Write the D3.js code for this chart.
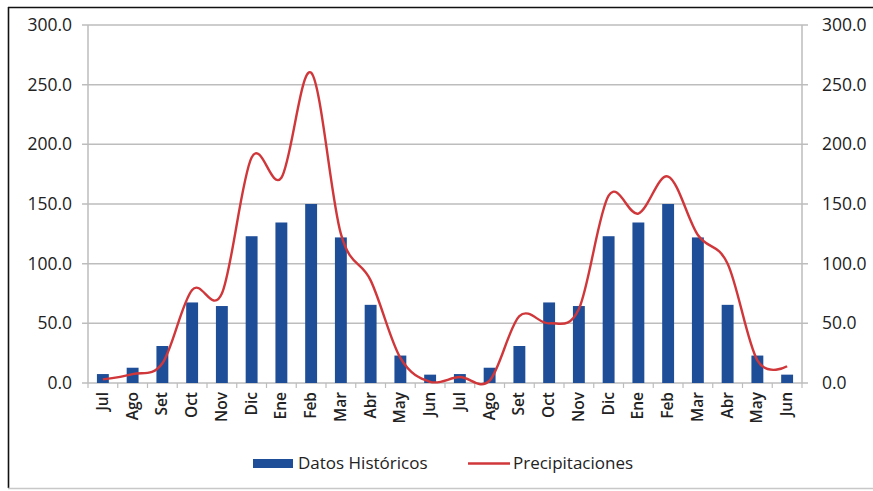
<!DOCTYPE html>
<html>
<head>
<meta charset="utf-8">
<script src="https://cdn.jsdelivr.net/npm/d3@7/dist/d3.min.js"></script>
<style>
  html, body { margin: 0; padding: 0; background: #fff; }
  svg { display: block; }
  text { font-family: "Open Sans", Lato, sans-serif; fill: #222; }
</style>
</head>
<body>
<svg id="chart" width="873" height="491"></svg>
<script>
// Months, two hydrological years (Jul–Jun)
const months = ["Jul","Ago","Set","Oct","Nov","Dic","Ene","Feb","Mar","Abr","May","Jun",
                "Jul","Ago","Set","Oct","Nov","Dic","Ene","Feb","Mar","Abr","May","Jun"];

// Historical monthly means (bars)
const historicos = [7.5, 12.8, 31, 67.5, 64.5, 123, 134.5, 150, 122, 65.5, 23, 7,
                    7.5, 12.8, 31, 67.5, 64.5, 123, 134.5, 150, 122, 65.5, 23, 7];

// Observed precipitation (line)
const precipitaciones = [3, 7.5, 16.5, 78, 75, 189, 172, 260, 125, 86, 21, 1,
                         5, 2, 56, 50, 62, 157, 142, 173, 124, 100, 19, 14];

const yTicks = [0, 50, 100, 150, 200, 250, 300];

const seriesNames = ["Datos Históricos", "Precipitaciones"];

const svg = d3.select("#chart");
const W = 873, H = 491;
const plot = { left: 88, right: 802, top: 25, bottom: 383 };

const barColor = "#1F4E99";
const lineColor = "#D0373A";
const gridColor = "#BDBDBD";
const fontStack = "'Open Sans', Lato, sans-serif";

// Frame
svg.append("rect").attr("x", 0).attr("y", 0).attr("width", W).attr("height", H).attr("fill", "#fff");
svg.append("line").attr("x1", 8).attr("x2", W).attr("y1", 7.5).attr("y2", 7.5)
  .attr("stroke", "#111").attr("stroke-width", 1.6);
svg.append("line").attr("x1", 8.5).attr("x2", 8.5).attr("y1", 7).attr("y2", 488)
  .attr("stroke", "#111").attr("stroke-width", 1.6);
svg.append("line").attr("x1", 8).attr("x2", W).attr("y1", 488.5).attr("y2", 488.5)
  .attr("stroke", "#c8c8c8").attr("stroke-width", 1.5);

const x = d3.scaleBand()
  .domain(d3.range(months.length))
  .range([plot.left, plot.right])
  .paddingInner(0.6)
  .paddingOuter(0.3);

const y = d3.scaleLinear().domain([0, 300]).range([plot.bottom, plot.top]);

// Horizontal gridlines
svg.append("g")
  .selectAll("line")
  .data(yTicks)
  .join("line")
  .attr("x1", plot.left - 6)
  .attr("x2", plot.right + 6)
  .attr("y1", d => y(d))
  .attr("y2", d => y(d))
  .attr("stroke", gridColor)
  .attr("stroke-width", 1.5);

// Vertical axis lines (left and right)
[plot.left, plot.right].forEach(px => {
  svg.append("line")
    .attr("x1", px).attr("x2", px)
    .attr("y1", plot.top).attr("y2", plot.bottom)
    .attr("stroke", gridColor).attr("stroke-width", 1.5);
});

// Left axis labels
const yLeft = d3.axisLeft(y).tickValues(yTicks).tickFormat(d3.format(".1f")).tickSize(0).tickPadding(16);
const gL = svg.append("g").attr("transform", `translate(${plot.left},0)`).call(yLeft);
gL.select(".domain").remove();
gL.selectAll("text").style("font-size", "17.5px").style("font-weight", "500").attr("fill", "#222")
  .style("font-family", fontStack);

// Right axis labels
const yRight = d3.axisRight(y).tickValues(yTicks).tickFormat(d3.format(".1f")).tickSize(0).tickPadding(20);
const gR = svg.append("g").attr("transform", `translate(${plot.right},0)`).call(yRight);
gR.select(".domain").remove();
gR.selectAll("text").style("font-size", "17.5px").style("font-weight", "500").attr("fill", "#222")
  .style("font-family", fontStack);

// Category boundary ticks below the baseline
const step = x.step();
svg.append("g")
  .selectAll("line")
  .data(d3.range(months.length + 1))
  .join("line")
  .attr("x1", i => plot.left + i * step)
  .attr("x2", i => plot.left + i * step)
  .attr("y1", plot.bottom)
  .attr("y2", plot.bottom + 5)
  .attr("stroke", gridColor)
  .attr("stroke-width", 1.2);

// Bars
svg.append("g")
  .selectAll("rect")
  .data(historicos)
  .join("rect")
  .attr("x", (d, i) => x(i))
  .attr("width", x.bandwidth())
  .attr("y", d => y(d))
  .attr("height", d => y(0) - y(d))
  .attr("fill", barColor);

// Smoothed precipitation line
const line = d3.line()
  .x((d, i) => x(i) + x.bandwidth() / 2)
  .y(d => y(d))
  .curve(d3.curveCatmullRom.alpha(0));

svg.append("path")
  .datum(precipitaciones)
  .attr("d", line)
  .attr("fill", "none")
  .attr("stroke", lineColor)
  .attr("stroke-width", 2.4)
  .attr("stroke-linejoin", "round");

// Rotated month labels
svg.append("g")
  .selectAll("text")
  .data(months)
  .join("text")
  .attr("transform", (d, i) => `translate(${x(i) + x.bandwidth() / 2 + 5},${plot.bottom + 9}) rotate(-90)`)
  .attr("text-anchor", "end")
  .style("font-size", "15.5px")
  .style("font-weight", "600")
  .style("font-family", fontStack)
  .text(d => d);

// Legend
const legend = svg.append("g").style("font-family", fontStack);
legend.append("rect")
  .attr("x", 253).attr("y", 459).attr("width", 40).attr("height", 9)
  .attr("fill", barColor);
legend.append("text")
  .attr("x", 298).attr("y", 469)
  .style("font-size", "17px")
  .style("font-weight", "500")
  .text(seriesNames[0]);
legend.append("line")
  .attr("x1", 468).attr("x2", 510).attr("y1", 463.5).attr("y2", 463.5)
  .attr("stroke", lineColor).attr("stroke-width", 2.4);
legend.append("text")
  .attr("x", 513).attr("y", 469)
  .style("font-size", "17px")
  .style("font-weight", "500")
  .text(seriesNames[1]);
</script>
</body>
</html>
